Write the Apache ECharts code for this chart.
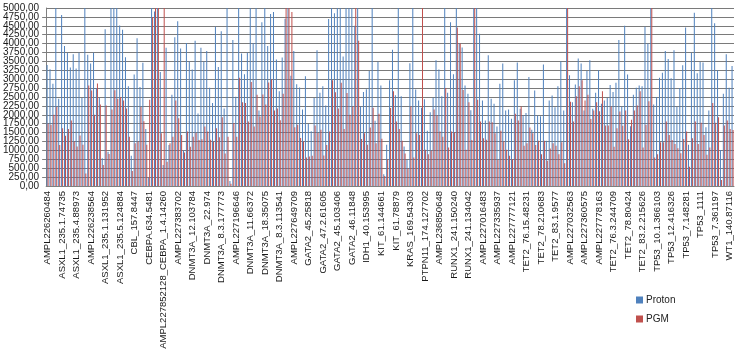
<!DOCTYPE html>
<html>
<head>
<meta charset="utf-8">
<script src="https://cdn.jsdelivr.net/npm/echarts@6/dist/echarts.min.js"></script>
<style>html,body{margin:0;padding:0;background:#fff;}#c{width:738px;height:359px;}</style>
</head>
<body>
<div id="c"></div>
<script>
var categories = [
"AMPL226260484","AMPL226260512","AMPL226261003","ASXL1_235.1.6120","ASXL1_235.1.38871",
"ASXL1_235.1.74735","ASXL1_235.2.11208","ASXL1_235.2.40593","ASXL1_235.3.22716","ASXL1_235.3.61084",
"ASXL1_235.4.88973","ASXL1_235.4.105527","AMPL226238102","AMPL226238377","AMPL226238450",
"AMPL226238564","AMPL226238789","ASXL1_235.1.95214","ASXL1_235.1.112830","ASXL1_235.1.127466",
"ASXL1_235.1.131952","ASXL1_235.5.27319","ASXL1_235.5.58842","ASXL1_235.5.90125","ASXL1_235.5.110437",
"ASXL1_235.5.124884","CBL_157.1120","CBL_157.3384","CBL_157.5106","CBL_157.6931",
"CBL_157.8447","CBL_157.10275","CEBPA.634.1092","CEBPA.634.2870","CEBPA.634.4163",
"CEBPA.634.5481","CEBPA.634.6902","AMPL227852011_CEBPA_1.1.3304","AMPL227852047_CEBPA_1.2.7715","AMPL227852093_CEBPA_1.3.11028",
"AMPL227852128_CEBPA_1.4.14260","AMPL227383515","AMPL227383562","AMPL227383618","AMPL227383655",
"AMPL227383702","DNMT3A_12.20416","DNMT3A_12.48852","DNMT3A_12.71930","DNMT3A_12.90317",
"DNMT3A_12.103784","DNMT3A_19.5528","DNMT3A_20.2214","DNMT3A_21.1739","DNMT3A_22.412",
"DNMT3A_22.974","DNMT3A_8.1.40516","DNMT3A_8.1.98302","DNMT3A_8.2.55107","DNMT3A_8.3.120348",
"DNMT3A_8.3.177773","AMPL227196412","AMPL227196478","AMPL227196530","AMPL227196601",
"AMPL227196646","DNMT3A_10.21587","DNMT3A_10.49930","DNMT3A_11.12244","DNMT3A_11.40018",
"DNMT3A_11.66372","DNMT3A_13.18826","DNMT3A_15.9034","DNMT3A_16.27719","DNMT3A_17.11503",
"DNMT3A_18.35075","DNMT3A_23.7741","DNMT3A_8.3.21966","DNMT3A_8.3.58204","DNMT3A_8.3.86127",
"DNMT3A_8.3.113541","AMPL227649511","AMPL227649573","AMPL227649620","AMPL227649668",
"AMPL227649709","GATA2_44.8823","GATA2_44.30571","GATA2_45.4107","GATA2_45.14392",
"GATA2_45.25818","GATA2_46.33015","GATA2_47.1.20648","GATA2_47.1.44179","GATA2_47.2.30392",
"GATA2_47.2.61605","GATA2_45.47733","GATA2_45.62958","GATA2_45.80164","GATA2_45.91820",
"GATA2_45.103406","GATA2_48.14227","GATA2_48.52290","GATA2_46.2316","GATA2_46.6092",
"GATA2_46.11848","IDH1_40.20834","IDH1_40.61127","IDH1_40.98453","IDH1_40.127290",
"IDH1_40.153995","IDH2_42.31886","IDH2_42.77512","KIT_61.30475","KIT_61.88601",
"KIT_61.144661","KIT_61.22036","KIT_61.41982","KIT_61.55310","KIT_61.66747",
"KIT_61.78879","KRAS_169.6612","KRAS_169.18037","KRAS_169.30554","KRAS_169.42128",
"KRAS_169.54303","NRAS_168.8861","NRAS_168.27490","PTPN11_174.35221","PTPN11_174.88036",
"PTPN11_174.127702","AMPL236850412","AMPL236850477","AMPL236850533","AMPL236850590",
"AMPL236850648","RUNX1_241.18844","RUNX1_241.60271","RUNX1_241.98830","RUNX1_241.126617",
"RUNX1_241.150240","RUNX1_241.31772","RUNX1_241.72095","RUNX1_241.100386","RUNX1_241.118421",
"RUNX1_241.134042","AMPL227016302","AMPL227016355","AMPL227016401","AMPL227016447",
"AMPL227016483","AMPL227335710","AMPL227335768","AMPL227335822","AMPL227335880",
"AMPL227335937","AMPL227776905","AMPL227776958","AMPL227777016","AMPL227777069",
"AMPL227777121","TET2_76.1.9054","TET2_76.5.20733","TET2_76.9.31188","TET2_76.12.40372",
"TET2_76.15.48231","TET2_77.36619","TET2_78.52908","TET2_78.110274","TET2_78.166032",
"TET2_78.210683","TET2_80.14476","TET2_82.7719","TET2_83.1.2285","TET2_83.1.6043",
"TET2_83.1.9577","AMPL227032350","AMPL227032408","AMPL227032461","AMPL227032515",
"AMPL227032563","AMPL227360348","AMPL227360402","AMPL227360461","AMPL227360520",
"AMPL227360575","AMPL227777950","AMPL227778003","AMPL227778061","AMPL227778112",
"AMPL227778163","TET2_76.1.61472","TET2_76.2.118905","TET2_76.2.190318","TET2_76.3.207751",
"TET2_76.3.244709","TET2_77.51230","TET2_78.19844","TET2_78.43967","TET2_78.61058",
"TET2_78.80424","TET2_81.22617","TET2_83.2.60348","TET2_83.2.121975","TET2_83.2.170462",
"TET2_83.2.215626","TP53_10.1.88214","TP53_10.1.172350","TP53_10.1.251093","TP53_10.1.313786",
"TP53_10.1.366103","TP53_11.98472","TP53_11.207615","TP53_12.118390","TP53_12.280744",
"TP53_12.416326","TP53_5.60219","TP53_6.33871","TP53_7.40522","TP53_7.97306",
"TP53_7.148281","TP53_8.27714","TP53_9.19063","TP53_4.561","TP53_4.874",
"TP53_1111","TP53_7.201574","TP53_7.248930","TP53_7.292277","TP53_7.330519",
"TP53_7.361197","WT1_140.10386","WT1_140.31944","WT1_140.52270","WT1_140.70835",
"WT1_140.87116","WT1_141.22458"
];

var proton = [
3400,3280,2870,5000,2450,4800,3930,3740,3330,3700,
3300,3740,2470,5000,3690,3440,3740,2750,2480,780,
4400,960,5000,5000,5000,4510,4390,3620,2800,850,
3130,4150,2780,3460,1600,240,5000,4900,5000,3200,
590,3880,1150,2560,4180,4630,3860,1000,4020,3500,
3270,4080,2040,3880,3500,3790,2760,2330,4470,3340,
4350,2180,5000,140,4100,2510,5000,3720,3140,3740,
5000,
4020,5000,2120,4600,5000,3930,4830,4890,3550,2660,
3610,4700,5000,3100,3790,2860,2770,2150,3080,1740,
1540,2470,3810,2620,2800,2260,4690,5000,4850,5000,
5000,3640,5000,5000,5000,4500,5000,2230,2640,2720,
3230,5000,1830,3490,2820,330,1160,2970,3830,2550,
5000,2520,1110,740,3450,5000,2710,2400,2200,2440,
1550,2070,2480,3530,3270,2520,5000,2620,4600,3140,
5000,4000,3890,2820,2590,2130,5000,5000,4280,2400,
1840,3670,
2450,2310,1670,2870,3440,2120,2150,1890,2970,3470,
2170,1990,2050,3060,1580,2680,1980,1960,3410,1270,
2400,2540,2210,2800,3500,2120,5000,3110,2350,2850,
3580,3440,2120,3230,3530,2170,2620,3250,2310,2400,
2470,2840,2640,2900,4100,2230,4500,3130,1680,2560,
2760,2820,2800,4470,4000,5000,2290,2500,3040,3180,
3790,3570,3030,3810,2230,2750,3390,4450,1160,3740,
4870,3170,3480,3470,1650,2120,5000,4570,3250,1010,
2590,3700,2760,3370
];

var pgm = [
1750,1720,2000,2220,1150,1620,1410,1600,1840,1250,
1110,1420,1160,350,2820,2680,2000,2880,2290,590,
2260,900,2150,2690,2450,2500,2400,2180,1380,420,
1200,1250,2220,1820,1160,2420,4750,5000,5000,1480,
5000,680,1200,1380,2400,1900,1430,940,1530,1100,
1380,1490,1290,1310,1670,1530,1300,1240,1620,1370,
1930,910,1380,60,1770,1380,3040,2350,2330,1810,
2920,
1670,2560,1950,2570,2290,2910,2990,2120,2180,1850,
2590,5000,5000,4890,1650,1720,1350,1250,800,830,
850,1700,1490,1580,860,1150,1530,2970,2630,2180,
2900,1600,2610,2000,2230,5000,4080,1320,1480,1160,
1640,2200,1200,2030,1330,280,750,2190,2660,1810,
1600,1270,910,490,2230,800,1480,1430,5000,1020,
890,990,2150,1980,1530,1380,2750,1080,1530,1510,
4450,4000,2700,1020,2350,1290,5000,2420,1810,1340,
1300,1810,
1790,1480,740,1550,1250,1020,850,760,2030,1840,
2230,1130,1200,1640,1480,1150,1270,890,1270,710,
1050,1200,1130,890,1230,640,5000,2370,1810,2520,
2800,2970,2400,2560,1880,2120,2350,2100,2660,1700,
1700,2230,1100,1620,2090,1690,2120,1310,1860,2120,
2260,2660,1080,1720,2380,5000,800,890,1230,1230,
1810,1430,1290,1180,1060,920,1320,1530,540,1340,
1810,1180,1780,1430,880,1080,2330,1780,1930,170,
1700,1840,1600,1570
];

var seriesNames = ["Proton", "PGM"];
var yTicks = {min: 0, max: 5000, step: 250};

var FONT = "Liberation Sans";
function fmt(v) { return v.toFixed(2).replace('.', ','); }
var labelBase = {fontSize: 10, fontFamily: FONT, color: '#1a1a1a', margin: 7, hideOverlap: false};

var chart = echarts.init(document.getElementById('c'), null, {renderer: 'canvas'});
chart.setOption({
  animation: false,
  backgroundColor: '#ffffff',
  textStyle: {fontFamily: FONT},
  grid: {left: 43, right: 4, top: 8, bottom: 173, containLabel: false},
  legend: {
    orient: 'vertical', left: 631, top: 290,
    itemWidth: 7, itemHeight: 7, itemGap: 9, icon: 'rect',
    textStyle: {fontFamily: FONT, fontSize: 10, color: '#222', padding: [0,0,0,-2]},
    data: seriesNames
  },
  xAxis: {
    type: 'category', data: categories,
    axisLine: {lineStyle: {color: '#7f7f7f', width: 1}},
    axisTick: {interval: 0, length: 3, lineStyle: {color: '#7f7f7f'}},
    axisLabel: {interval: 4, rotate: 90, fontSize: 9.5, fontFamily: FONT, color: '#1a1a1a', margin: 5},
    splitLine: {show: false}
  },
  yAxis: [{
    type: 'value', min: yTicks.min, max: yTicks.max, interval: yTicks.step, position: 'left',
    axisLine: {show: true, lineStyle: {color: '#7f7f7f'}},
    axisTick: {show: true, length: 4, lineStyle: {color: '#7f7f7f'}},
    axisLabel: Object.assign({}, labelBase, {showMinLabel: false, showMaxLabel: false, formatter: fmt}),
    splitLine: {show: true, lineStyle: {color: '#7a7a7a', width: 1}}
  }, {
    type: 'value', min: yTicks.min, max: yTicks.max, interval: yTicks.step, position: 'left',
    axisLine: {show: false}, axisTick: {show: false}, splitLine: {show: false},
    axisLabel: Object.assign({}, labelBase, {showMinLabel: true, showMaxLabel: true,
      formatter: function (v) { return (v === yTicks.min || v === yTicks.max) ? fmt(v) : ''; }})
  }],
  series: [
    {name: seriesNames[0], type: 'bar', data: proton, barWidth: 1, barGap: '0%',
     itemStyle: {color: '#4F81BD'}},
    {name: seriesNames[1], type: 'bar', data: pgm, barWidth: 1, barGap: '0%',
     itemStyle: {color: '#C0504D'}}
  ]
});
</script>
</body>
</html>
